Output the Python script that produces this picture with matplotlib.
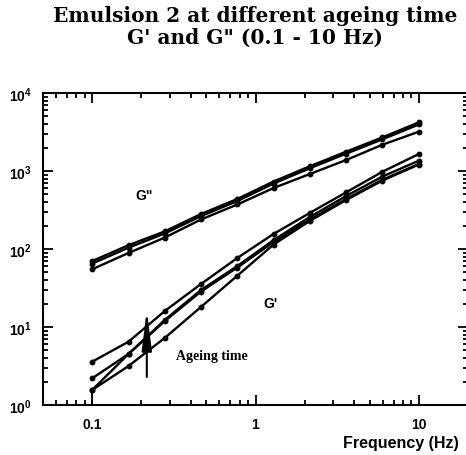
import matplotlib
matplotlib.use("Agg")
import matplotlib.pyplot as plt
import matplotlib.ticker as plticker
import numpy as np

# frequencies (Hz), 10 points per 2 decades
freq = [0.1, 0.167, 0.278, 0.464, 0.774, 1.29, 2.15, 3.59, 5.99, 10]

# G'' (loss modulus) at the different ageing times
g2_a = [70, 112, 168, 281, 438, 733, 1150, 1770, 2700, 4200]
g2_b = [65, 104, 158, 264, 412, 690, 1085, 1670, 2550, 3950]
g2_c = [55, 89, 140, 239, 372, 605, 915, 1384, 2174, 3190]

# G' (storage modulus) at the different ageing times
g1_a = [3.59, 6.48, 16.0, 35.6, 76.7, 156, 290, 533, 979, 1652]
g1_b = [2.20, 4.51, 12.3, 29.8, 60.5, 130, 257, 478, 850, 1356]
g1_c = [1.56, 4.51, 11.9, 28.5, 57.9, 123, 238, 438, 773, 1230]
g1_d = [1.56, 3.16, 7.23, 18.1, 45.5, 114, 229, 425, 755, 1211]

# arrow "Ageing time"
arrow_x = 0.216
arrow_y = [2.29, 16.5]

plt.rcParams['mathtext.fontset'] = 'custom'
plt.rcParams['mathtext.bf'] = 'Liberation Sans:bold'
plt.rcParams['mathtext.rm'] = 'Liberation Sans:bold'

fig = plt.figure(figsize=(4.66, 4.56), dpi=100)
ax = fig.add_axes([43/466, 1 - 406/456, 425/466, 312/456])

ax.set_xscale('log')
ax.set_yscale('log')
ax.set_xlim(0.05, 20)
ax.set_ylim(1, 1e4)

for g in (g2_a, g2_b, g2_c, g1_a, g1_b, g1_c, g1_d):
   ax.plot(freq, g, color='black', lw=1.7, marker='o', ms=3.2)

# little drop line at the first point
ax.vlines(freq[0], 1, g1_d[0], color='black', lw=1.5)

ax.annotate('', xy=(arrow_x, arrow_y[1]), xytext=(arrow_x, arrow_y[0]),
            arrowprops=dict(arrowstyle='-|>,head_length=1.6,head_width=0.2',
                            lw=1.5, color='black', mutation_scale=15,
                            shrinkA=0, shrinkB=0))

ax.text(0.183, 493, 'G"', fontsize=10, fontweight='bold', family='Liberation Sans', va='center')
ax.text(1.12, 20.3, "G'", fontsize=10, fontweight='bold', family='Liberation Sans', va='center')
ax.text(0.327, 4.25, 'Ageing time', fontsize=10, fontweight='bold', family='Liberation Serif', va='center')

# ticks
ax.tick_params(which='both', direction='in', top=True, right=True, width=1.3)
ax.tick_params(which='major', length=7)
ax.tick_params(which='minor', length=3.5)
ax.tick_params(axis='x', which='major', pad=9)
ax.tick_params(axis='y', which='major', pad=8)
ax.xaxis.set_major_locator(plticker.FixedLocator([0.1, 1, 10]))
ax.xaxis.set_major_formatter(plticker.FixedFormatter(['0.1', '1', '10']))
ax.xaxis.set_minor_locator(plticker.LogLocator(base=10, subs=np.arange(2, 10)))
ax.xaxis.set_minor_formatter(plticker.NullFormatter())
ax.yaxis.set_major_locator(plticker.FixedLocator([1, 10, 100, 1000, 10000]))
ax.yaxis.set_major_formatter(plticker.FuncFormatter(lambda v, p: r'$\mathbf{10^{%d}}$' % round(np.log10(v))))
ax.yaxis.set_minor_locator(plticker.LogLocator(base=10, subs=np.arange(2, 10)))
ax.yaxis.set_minor_formatter(plticker.NullFormatter())
for lab in ax.get_xticklabels() + ax.get_yticklabels():
   lab.set_fontsize(10)
   lab.set_fontweight('bold')
   lab.set_family('Liberation Sans')

for s in ax.spines.values():
   s.set_linewidth(1.5)

fig.text(255/466, 1 - 16/456, 'Emulsion 2 at different ageing time',
         ha='center', va='center', fontsize=14.5, fontweight='bold', family='DejaVu Serif')
fig.text(255/466, 1 - 38/456, 'G\' and G" (0.1 - 10 Hz)',
         ha='center', va='center', fontsize=14.5, fontweight='bold', family='DejaVu Serif')
fig.text(459/466, 1 - 444/456, 'Frequency (Hz)', ha='right', va='center',
         fontsize=11.5, fontweight='bold', family='Liberation Sans')

fig.savefig('out.png', dpi=100)
